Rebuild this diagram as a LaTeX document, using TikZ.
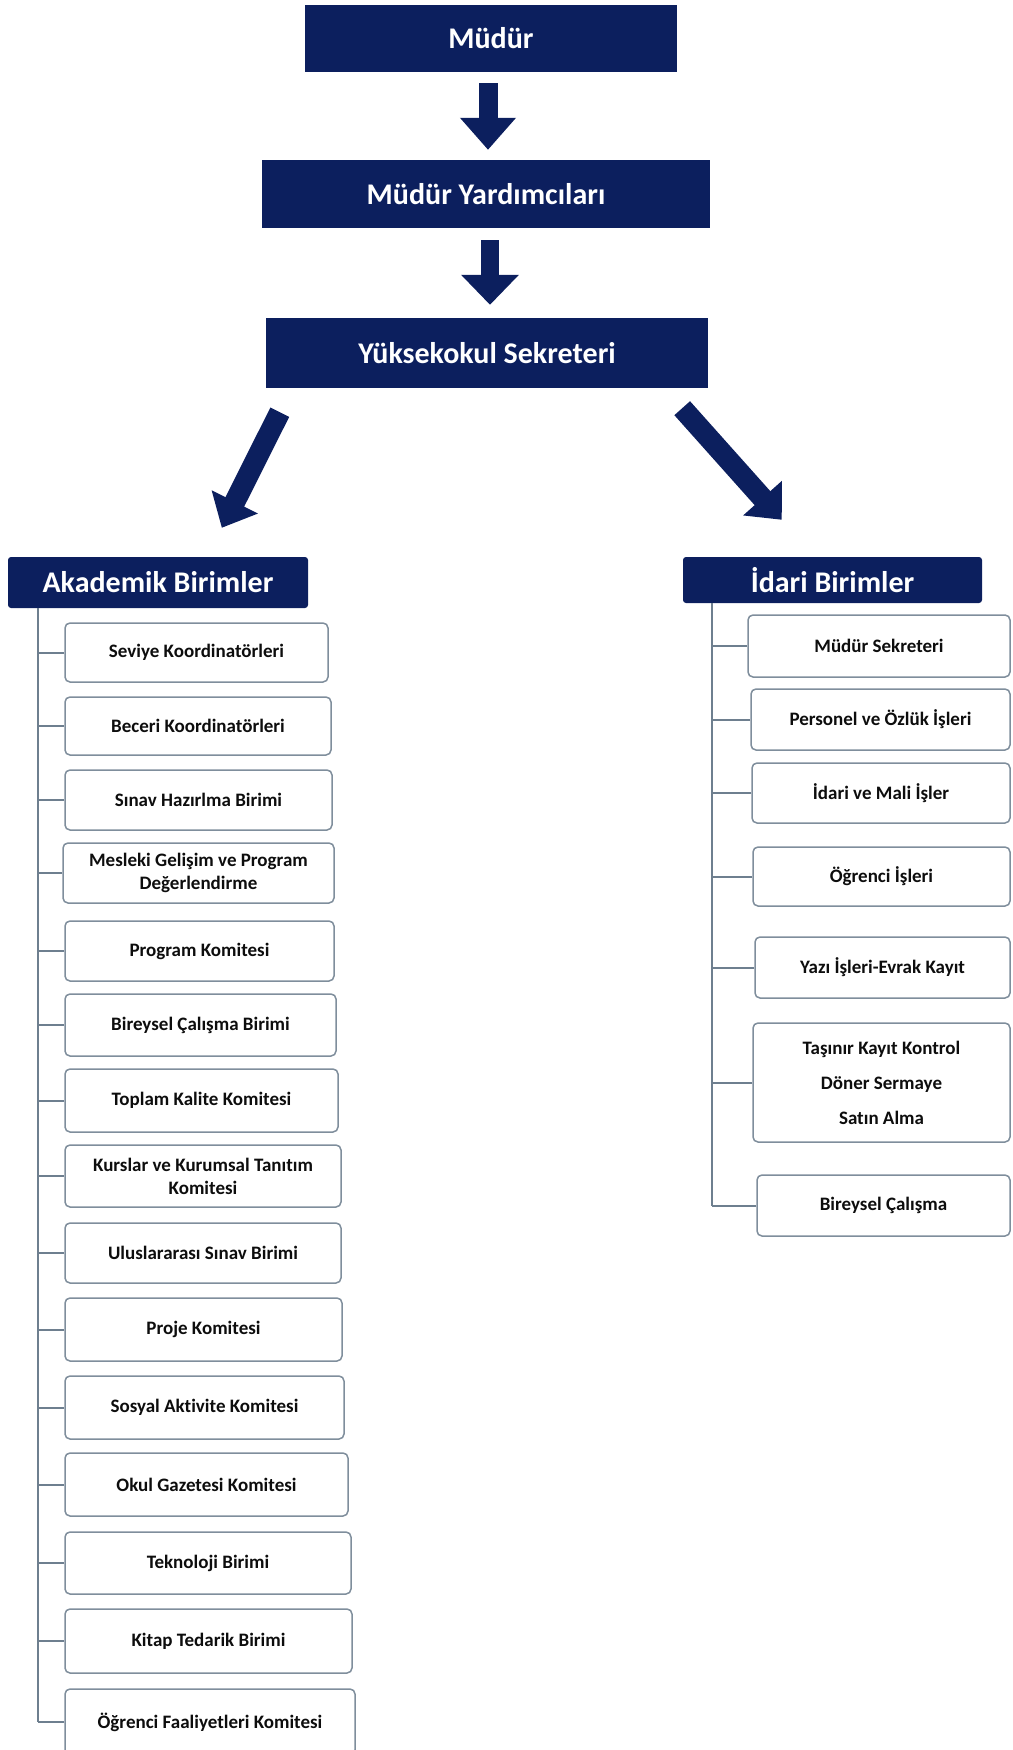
\documentclass[tikz,border=0pt]{standalone}
\usepackage{fontspec}
\setmainfont{Carlito}[Ligatures=NoCommon]
\usetikzlibrary{arrows.meta}
\usetikzlibrary{calc}
\usetikzlibrary{positioning}
\definecolor{lacivert}{HTML}{0C1F5E}
\definecolor{kenar}{HTML}{7F8E9C}
\definecolor{hat}{HTML}{6E7F8F}

\begin{document}
\begin{tikzpicture}[x=1pt,y=-1pt]
\tikzstyle{every node}=[font=\bfseries]
\tikzstyle{ustkutu}=[fill=lacivert,text=white,inner sep=0pt,font=\fontsize{30}{34}\selectfont\bfseries]
\tikzstyle{baslik}=[ustkutu,rounded corners=3pt]
\tikzstyle{altkutu}=[draw=kenar,line width=1.5pt,fill=white,rounded corners=5pt,inner sep=0pt,align=center,text=black!95,font=\fontsize{19}{23}\selectfont\bfseries]
\tikzstyle{ok}=[draw=lacivert,line width=19pt]
\tikzstyle{kol}=[draw=hat,line width=2pt]
\useasboundingbox (0,0) rectangle (1012,1750);
\clip (0,0) rectangle (1012,1750);

%=== Yonetim
\node[ustkutu,minimum width=372pt,minimum height=67pt] (mudur) at (491,38.5) {Müdür};
\node[ustkutu,minimum width=448pt,minimum height=68pt] (yard) at (486,194) {Müdür Yardımcıları};
\node[ustkutu,minimum width=442pt,minimum height=70pt] (yuksek) at (487,353) {Yüksekokul Sekreteri};

% Oklar
\draw[ok,-{Triangle[width=54pt,length=32pt]}] ($(mudur.south)+(-3,11)$) -- ($(yard.north)+(2,-10)$);
\draw[ok,line width=18pt,-{Triangle[width=56pt,length=30pt]}] ($(yard.south)+(4,12)$) -- ($(yuksek.north)+(3,-13)$);

%=== Birimler
\node[baslik,minimum width=300pt,minimum height=51pt] (akad) at (158,582.5) {Akademik Birimler};
\node[baslik,minimum width=299pt,minimum height=46pt] (idari) at (832.5,580) {İdari Birimler};

\draw[ok,line width=21pt,-{Triangle[width=50pt,length=29pt]}] ($(yuksek.south west)+(14,24)$) -- ($(akad.north west)+(214,-29)$);
\draw[ok,line width=21pt,-{Triangle[width=50pt,length=29pt]}] ($(yuksek.south east)+(-26,20)$) -- ($(idari.north west)+(99,-37)$);

%=== Akademik
\coordinate (aomurga) at (38,608);
\foreach \i/\xa/\ya/\yb/\xb/\txt in {
  1/65/623/682/328/{Seviye Koordinatörleri},
  2/65/697/755/331/{Beceri Koordinatörleri},
  3/65/770/830/332/{Sınav Hazırlma Birimi},
  4/63/843/903/334/{Mesleki Gelişim ve Program\\Değerlendirme},
  5/65/921/981/334/{Program Komitesi},
  6/65/994/1056/336/{Bireysel Çalışma Birimi},
  7/65/1069/1132/338/{Toplam Kalite Komitesi},
  8/65/1145/1207/341/{Kurslar ve Kurumsal Tanıtım\\Komitesi},
  9/65/1223/1283/341/{Uluslararası Sınav Birimi},
  10/65/1298/1361/342/{Proje Komitesi},
  11/65/1376/1439/344/{Sosyal Aktivite Komitesi},
  12/65/1453/1516/348/{Okul Gazetesi Komitesi},
  13/65/1532/1594/351/{Teknoloji Birimi},
  14/65/1609/1673/352/{Kitap Tedarik Birimi},
  15/65/1689/1755/355/{Öğrenci Faaliyetleri Komitesi}}{
  \node[altkutu,minimum width={(\xb-\xa)*1pt},minimum height={(\yb-\ya)*1pt}] (a\i) at ({(\xa+\xb)/2},{(\ya+\yb)/2}) {\txt};
  \draw[kol] (a\i.west) -- (a\i.west -| aomurga);
}
\draw[kol] (aomurga) -- (a15.west -| aomurga);

%=== Idari
\coordinate (iomurga) at (712,603);
\foreach \i/\xa/\ya/\yb/\txt in {
  1/748/615/677/{Müdür Sekreteri},
  2/751/689/750/{Personel ve Özlük İşleri},
  3/752/763/823/{İdari ve Mali İşler},
  4/753/847/906/{Öğrenci İşleri},
  5/755/937/998/{Yazı İşleri-Evrak Kayıt},
  7/757/1175/1236/{Bireysel Çalışma}}{
  \node[altkutu,minimum width={(1010-\xa)*1pt},minimum height={(\yb-\ya)*1pt}] (r\i) at ({(\xa+1010)/2},{(\ya+\yb)/2}) {\txt};
  \draw[kol] (r\i.west) -- (r\i.west -| iomurga);
}
\node[altkutu,minimum width=257pt,minimum height=119pt,font=\fontsize{19}{35}\selectfont\bfseries] (r6) at (881.5,1082.5) {Taşınır Kayıt Kontrol\\Döner Sermaye\\Satın Alma};
\draw[kol] (r6.west) -- (r6.west -| iomurga);
\draw[kol] (iomurga) -- (r7.west -| iomurga);
\end{tikzpicture}
\end{document}
